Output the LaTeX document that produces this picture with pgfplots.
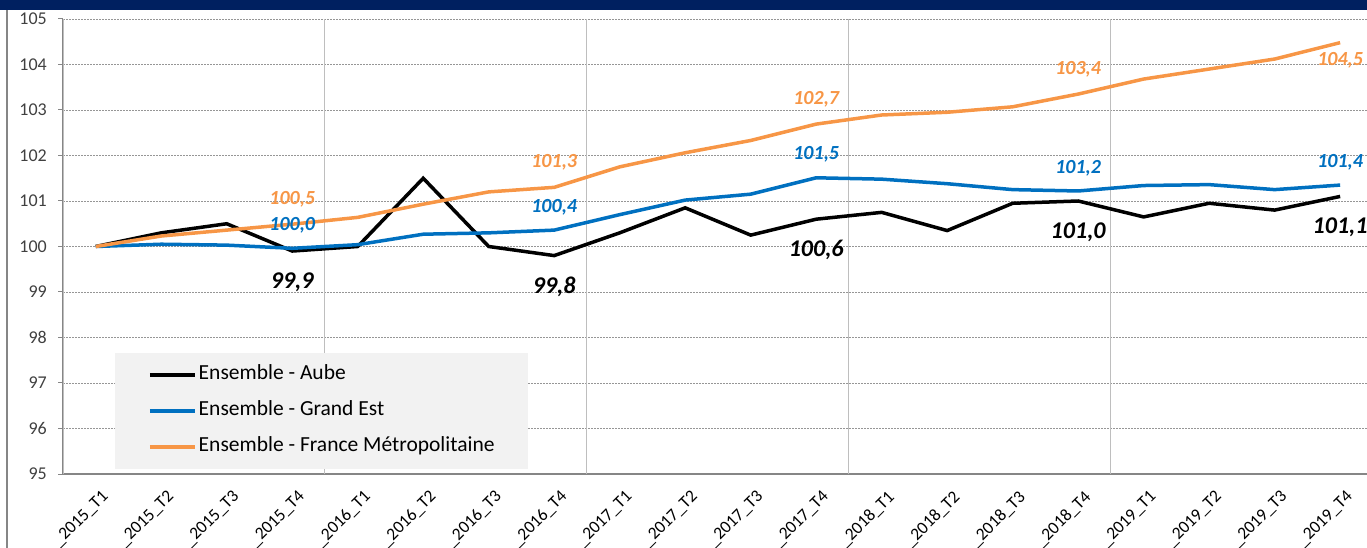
\documentclass[border=0pt]{standalone}
\usepackage{pgfplots}
\pgfplotsset{compat=1.18}
\usepackage{fontspec}
\setmainfont{Carlito}
\definecolor{cBlue}{RGB}{0,112,192}
\definecolor{cOrange}{RGB}{247,150,70}
\definecolor{cNavy}{RGB}{0,32,96}
\definecolor{cTxt}{RGB}{64,64,64}
\definecolor{cAxis}{RGB}{134,134,134}
\definecolor{cGrid}{RGB}{150,150,150}
\definecolor{cVGrid}{RGB}{190,190,190}
\definecolor{cLeg}{RGB}{242,242,242}
\newcommand{\xl}[1]{\hbox{\fontsize{17.5bp}{19bp}\selectfont\_#1}}
\begin{document}
\begin{tikzpicture}
\useasboundingbox (0,0) rectangle (1367bp,548bp);
\fill[cNavy] (0,538bp) rectangle (1367bp,548bp);
\draw[cAxis, line width=2bp] (7bp,0) -- (7bp,538bp);
\begin{axis}[
  at={(63bp,74bp)}, anchor=south west,
  width=1304bp, height=455bp, scale only axis,
  xmin=-0.5, xmax=19.41, ymin=95, ymax=105,
  axis lines*=left,
  axis line style={cAxis, line width=1.3bp},
  xtick={0,...,19},
  xticklabels={\xl{2015\_T1},\xl{2015\_T2},\xl{2015\_T3},\xl{2015\_T4},\xl{2016\_T1},\xl{2016\_T2},\xl{2016\_T3},\xl{2016\_T4},\xl{2017\_T1},\xl{2017\_T2},\xl{2017\_T3},\xl{2017\_T4},\xl{2018\_T1},\xl{2018\_T2},\xl{2018\_T3},\xl{2018\_T4},\xl{2019\_T1},\xl{2019\_T2},\xl{2019\_T3},\xl{2019\_T4}},
  x tick style={draw=none},
  xticklabel style={xshift=5bp, yshift=-10bp, rotate=45, anchor=north east, inner sep=0pt, text=black},
  extra x ticks={-0.5,3.5,7.5,11.5,15.5},
  extra x tick labels={},
  extra x tick style={grid=major, major grid style={cVGrid, line width=1bp}, tick style={draw=cAxis, line width=1bp}, tick align=outside, major tick length=7bp},
  ytick={95,96,...,105},
  yticklabel={\hbox{\fontsize{18bp}{20bp}\selectfont\pgfmathprintnumber{\tick}}},
  ymajorgrids,
  y grid style={cGrid, dash pattern=on 2bp off 1bp, line width=0.8bp},
  y tick style={cAxis, line width=1bp},
  tick align=outside, major tick length=5bp,
  yticklabel style={anchor=east, inner sep=0pt, xshift=-11bp, text=cTxt},
  /pgf/number format/assume math mode=true,
  legend style={at={(rel axis cs:0.0399,0.011)}, anchor=south west, fill=cLeg, draw=none,
    inner xsep=33bp, inner ysep=13bp, row sep=18bp,
    font=\fontsize{21.5bp}{23bp}\selectfont,
    nodes={inner sep=0bp, text height=14bp, text depth=4bp},
    /tikz/every odd column/.append style={column sep=2bp}},
  legend cell align=left,
  legend image code/.code={\draw[#1] (0bp,0bp) -- (45bp,0bp);},
  clip=false,
]
\addplot[black, line width=3.5bp] coordinates {
(0,100.0) (1,100.3) (2,100.5) (3,99.9) (4,100.0) (5,101.5) (6,100.0) (7,99.8) (8,100.3) (9,100.85)
(10,100.25) (11,100.6) (12,100.75) (13,100.35) (14,100.95) (15,101.0) (16,100.65) (17,100.95) (18,100.8) (19,101.1)};
\addlegendentry{Ensemble - Aube}
\addplot[cBlue, line width=3.5bp] coordinates {
(0,100.0) (1,100.05) (2,100.03) (3,99.96) (4,100.04) (5,100.27) (6,100.3) (7,100.36) (8,100.7) (9,101.02)
(10,101.15) (11,101.51) (12,101.48) (13,101.38) (14,101.25) (15,101.22) (16,101.34) (17,101.36) (18,101.25) (19,101.35)};
\addlegendentry{Ensemble - Grand Est}
\addplot[cOrange, line width=3.5bp] coordinates {
(0,100.0) (1,100.23) (2,100.36) (3,100.49) (4,100.64) (5,100.93) (6,101.2) (7,101.3) (8,101.75) (9,102.06)
(10,102.33) (11,102.69) (12,102.89) (13,102.95) (14,103.07) (15,103.35) (16,103.68) (17,103.9) (18,104.12) (19,104.48)};
\addlegendentry{Ensemble - France Métropolitaine}
\addplot[draw=none, mark=none, forget plot, nodes near coords, point meta=explicit symbolic,
  every node near coord/.append style={anchor=center, yshift=-31bp, text=black, font=\fontsize{24bp}{26bp}\selectfont\bfseries\itshape}]
  coordinates {(3,99.9)[99{,}9] (7,99.8)[99{,}8] (11,100.6)[100{,}6] (15,101.0)[101{,}0] (19,101.1)[101{,}1]};
\addplot[draw=none, mark=none, forget plot, nodes near coords, point meta=explicit symbolic,
  every node near coord/.append style={anchor=center, yshift=23bp, text=cBlue, font=\fontsize{20bp}{22bp}\selectfont\bfseries\itshape}]
  coordinates {(3,99.96)[100{,}0] (7,100.36)[100{,}4] (11,101.51)[101{,}5] (15,101.22)[101{,}2] (19,101.35)[101{,}4]};
\addplot[draw=none, mark=none, forget plot, nodes near coords, point meta=explicit symbolic,
  every node near coord/.append style={anchor=center, yshift=25bp, text=cOrange, font=\fontsize{20bp}{22bp}\selectfont\bfseries\itshape}]
  coordinates {(3,100.49)[100{,}5] (7,101.3)[101{,}3] (11,102.69)[102{,}7] (15,103.35)[103{,}4]};
\addplot[draw=none, mark=none, forget plot, nodes near coords, point meta=explicit symbolic,
  every node near coord/.append style={anchor=center, yshift=-18bp, text=cOrange, font=\fontsize{20bp}{22bp}\selectfont\bfseries\itshape}]
  coordinates {(19,104.48)[104{,}5]};
\end{axis}
\end{tikzpicture}
\end{document}
